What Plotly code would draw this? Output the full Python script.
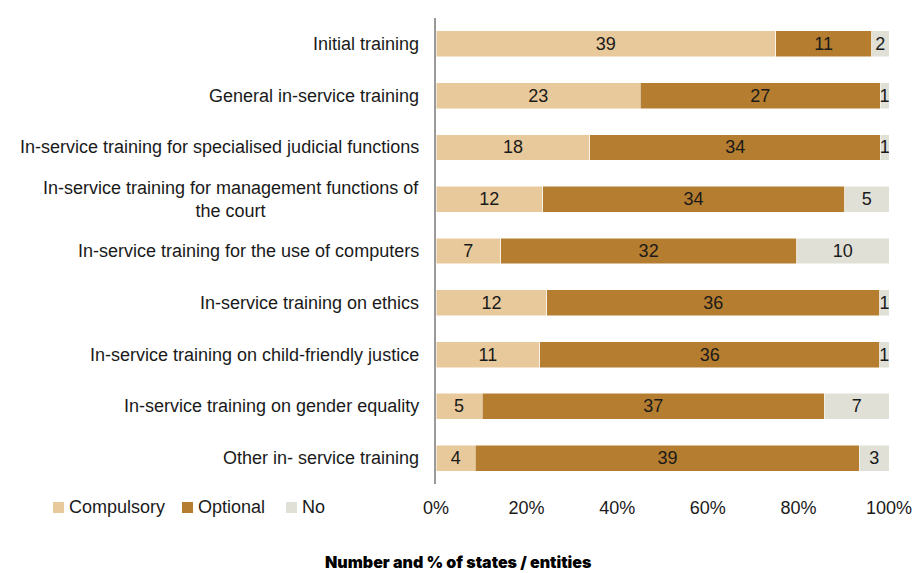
import plotly.graph_objects as go

categories = [
    "Initial training",
    "General in-service training",
    "In-service training for specialised judicial functions",
    "In-service training for management functions of<br>the court",
    "In-service training for the use of computers",
    "In-service training on ethics",
    "In-service training on child-friendly justice",
    "In-service training on gender equality",
    "Other in- service training",
]
compulsory = [39, 23, 18, 12, 7, 12, 11, 5, 4]
optional = [11, 27, 34, 34, 32, 36, 36, 37, 39]
no = [2, 1, 1, 5, 10, 1, 1, 7, 3]
tick_vals = [0, 20, 40, 60, 80, 100]
tick_text = ["0%", "20%", "40%", "60%", "80%", "100%"]

series = [
    ("Compulsory", compulsory, "#E8C99B"),
    ("Optional", optional, "#B57D2F"),
    ("No", no, "#E0E0D6"),
]

FONT = "Liberation Sans, Arial, sans-serif"
FS = 18

# plot area in pixels
L, R, T, B = 436, 889, 18, 484
W, H = R - L, B - T


def px_x(p):
    return (p - L) / W


def px_y(p):
    return (B - p) / H


fig = go.Figure()
for name, vals, color in series:
    fig.add_trace(go.Bar(
        name=name, y=categories, x=vals, orientation="h",
        marker=dict(color=color, line=dict(color="white", width=0.5)),
        text=[str(v) for v in vals], textposition="inside", textangle=0,
        insidetextanchor="middle", constraintext="none",
        textfont=dict(family=FONT, size=FS, color="#1a1a1a"),
        width=0.5, showlegend=False,
    ))

for c in categories:
    fig.add_annotation(
        x=0, xref="paper", y=c, yref="y", text=c, showarrow=False,
        xanchor="right", align="center", xshift=-15,
        font=dict(family=FONT, size=FS, color="#1a1a1a"),
    )

# legend (custom, to match the original's compact spacing)
legend_pos = [(53, 67), (182, 196), (286, 300)]
for (name, _, color), (sq, tx) in zip(series, legend_pos):
    fig.add_shape(type="rect", xref="paper", yref="paper",
                  x0=px_x(sq), x1=px_x(sq + 11), y0=px_y(513), y1=px_y(502),
                  fillcolor=color, line=dict(width=0))
    fig.add_annotation(x=px_x(tx), xref="paper", y=px_y(507), yref="paper",
                       xanchor="left", yanchor="middle", text=name, showarrow=False,
                       font=dict(family=FONT, size=FS, color="#1a1a1a"))

fig.add_annotation(
    x=px_x(458), xref="paper", y=px_y(562), yref="paper",
    xanchor="center", yanchor="middle",
    text="Number and % of states / entities", showarrow=False,
    font=dict(family="Inter, DejaVu Sans", size=16, color="#000", weight=900),
)

fig.update_layout(
    barmode="stack", barnorm="percent",
    width=913, height=573,
    margin=dict(l=L, r=913 - R, t=T, b=573 - B, autoexpand=False),
    plot_bgcolor="white", paper_bgcolor="white",
    showlegend=False,
    xaxis=dict(range=[0, 100], tickvals=tick_vals, ticktext=tick_text,
               showgrid=False, zeroline=False, showline=False,
               tickfont=dict(family=FONT, size=FS, color="#1a1a1a"), ticks="",
               ticklabelstandoff=11),
    yaxis=dict(autorange="reversed", showticklabels=False, showline=True,
               linecolor="#9a9a9a", linewidth=1.5, showgrid=False, ticks=""),
)

fig.write_html("out.html", config={"displayModeBar": False},
               post_script="document.body.style.margin='0';")
